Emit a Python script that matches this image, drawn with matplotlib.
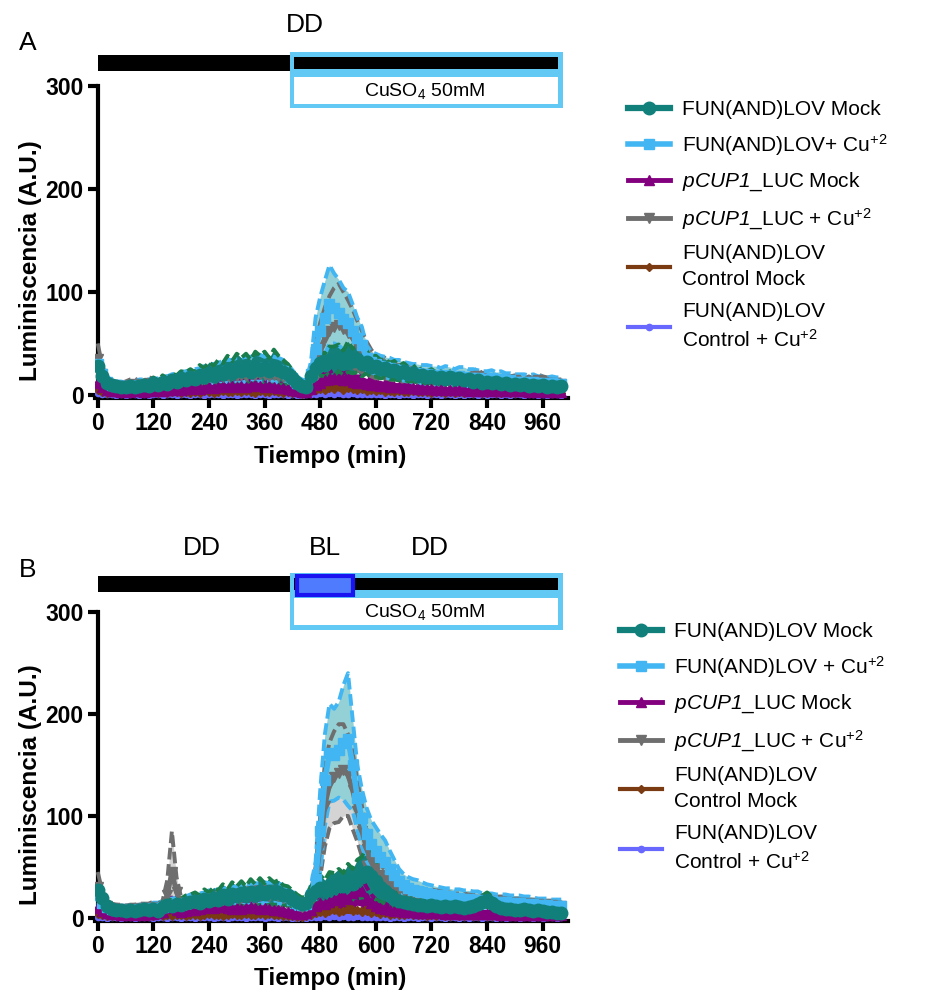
#Luminiscence time courses, FUN(AND)LOV vs pCUP1_LUC
#panel A: CuSO4 in the dark, panel B: CuSO4 + blue light pulse

import numpy as np
import matplotlib.pyplot as plt
from matplotlib.patches import Rectangle

plt.rcParams['font.family'] = ['Liberation Sans', 'DejaVu Sans']
plt.rcParams['mathtext.fontset'] = 'custom'
plt.rcParams['mathtext.rm'] = 'Liberation Sans'
plt.rcParams['mathtext.it'] = 'Liberation Sans:italic'
plt.rcParams['mathtext.sf'] = 'Liberation Sans:italic'   # used for italic gene names, digits included
plt.rcParams['mathtext.bf'] = 'Liberation Sans:bold'

# time axis (min), one reading every 10 min
t = np.arange(0, 1001, 10)
x_ticks = [0, 120, 240, 360, 480, 600, 720, 840, 960]
y_ticks = [0, 100, 200, 300]

# ---------------- panel A ----------------
a_fun_mock = [
    28, 18, 12, 10, 9, 8, 8, 9, 8, 9, 10,
    9, 12, 10, 13, 11, 14, 13, 16, 14, 17,
    15, 19, 17, 21, 18, 22, 20, 24, 21, 25,
    23, 26, 22, 27, 24, 26, 23, 27, 24, 22,
    20, 16, 12, 9, 8, 18, 26, 31, 29, 34,
    33, 36, 31, 37, 33, 35, 30, 32, 27, 28,
    25, 26, 23, 24, 21, 23, 20, 21, 18, 19,
    17, 18, 16, 17, 15, 17, 15, 16, 14, 15,
    13, 14, 12, 13, 12, 13, 11, 12, 10, 11,
    10, 11, 9, 10, 9, 10, 8, 9, 8, 9]
a_fun_mock_sd = [
    6, 5, 4, 4, 4, 3, 3, 4, 3, 4, 4,
    4, 5, 4, 6, 5, 7, 6, 7, 8, 8,
    7, 10, 9, 11, 10, 12, 11, 14, 12, 15,
    13, 14, 12, 15, 14, 16, 13, 17, 14, 12,
    10, 8, 6, 4, 4, 8, 10, 12, 11, 13,
    14, 13, 12, 15, 12, 13, 12, 11, 10, 10,
    9, 9, 8, 9, 7, 8, 7, 8, 6, 7,
    6, 7, 6, 6, 5, 6, 6, 5, 6, 5,
    5, 5, 5, 5, 4, 5, 5, 4, 4, 4,
    4, 4, 4, 4, 4, 4, 3, 4, 3, 3]
a_fun_cu = [
    30, 20, 13, 10, 9, 9, 8, 9, 9, 10, 10,
    10, 11, 11, 12, 12, 14, 14, 15, 16, 16,
    17, 18, 19, 20, 20, 21, 22, 23, 23, 24,
    24, 25, 25, 26, 26, 25, 26, 25, 24, 23,
    20, 16, 12, 10, 9, 20, 45, 62, 75, 88,
    84, 80, 74, 70, 62, 55, 48, 36, 32, 30,
    28, 27, 26, 25, 24, 23, 22, 21, 21, 20,
    20, 19, 19, 18, 19, 18, 17, 18, 17, 16,
    16, 16, 15, 15, 16, 14, 15, 14, 14, 13,
    13, 13, 12, 13, 12, 12, 11, 12, 11, 11]
a_fun_cu_sd = [
    8, 6, 5, 4, 4, 4, 4, 4, 4, 5, 5,
    5, 5, 5, 6, 6, 6, 7, 7, 7, 8,
    8, 8, 9, 9, 10, 10, 11, 11, 11, 12,
    12, 12, 12, 13, 13, 12, 13, 12, 12, 11,
    10, 8, 6, 5, 5, 12, 30, 33, 36, 38,
    34, 32, 30, 30, 26, 20, 18, 12, 10, 10,
    10, 10, 10, 9, 10, 9, 9, 9, 9, 9,
    9, 9, 9, 8, 9, 9, 8, 9, 10, 9,
    9, 8, 8, 8, 8, 8, 8, 7, 7, 7,
    7, 7, 7, 7, 6, 6, 6, 6, 6, 6]
a_cup_mock = [
    12, 8, 5, 4, 4, 3, 4, 3, 4, 4, 3,
    4, 4, 5, 4, 5, 5, 6, 5, 6, 6,
    7, 6, 7, 8, 7, 8, 9, 8, 9, 8,
    9, 8, 9, 10, 9, 8, 9, 8, 7, 7,
    6, 5, 4, 3, 3, 6, 10, 12, 14, 15,
    16, 15, 14, 15, 13, 12, 12, 11, 10, 10,
    9, 9, 8, 8, 8, 7, 7, 7, 6, 6,
    6, 6, 5, 6, 5, 5, 5, 5, 5, 4,
    5, 4, 4, 5, 4, 4, 4, 4, 4, 4,
    4, 4, 3, 4, 3, 4, 3, 3, 3, 3]
a_cup_mock_sd = [
    6, 4, 3, 2, 2, 2, 2, 2, 2, 2, 2,
    2, 2, 3, 2, 3, 3, 3, 3, 3, 3,
    4, 3, 4, 4, 4, 4, 5, 4, 5, 4,
    5, 4, 5, 5, 5, 4, 5, 4, 4, 4,
    3, 3, 2, 2, 2, 3, 5, 6, 7, 7,
    8, 7, 7, 7, 6, 6, 6, 5, 5, 5,
    5, 4, 4, 4, 4, 4, 4, 4, 3, 3,
    3, 3, 3, 3, 3, 3, 3, 3, 3, 2,
    3, 2, 2, 3, 2, 2, 2, 2, 2, 2,
    2, 2, 2, 2, 2, 2, 2, 2, 2, 2]
a_cup_cu = [
    35, 20, 12, 10, 9, 8, 9, 10, 11, 9, 10,
    12, 11, 10, 12, 13, 12, 14, 13, 15, 14,
    15, 16, 15, 17, 16, 18, 17, 18, 19, 18,
    19, 18, 20, 19, 20, 19, 18, 19, 18, 17,
    15, 13, 10, 8, 8, 15, 32, 45, 55, 62,
    66, 68, 64, 60, 55, 48, 42, 36, 31, 27,
    25, 26, 24, 22, 21, 20, 20, 19, 18, 18,
    17, 17, 16, 16, 15, 16, 15, 15, 14, 15,
    16, 18, 15, 14, 15, 14, 13, 14, 13, 14,
    13, 12, 13, 12, 14, 13, 12, 12, 11, 11]
a_cup_cu_sd = [
    15, 8, 5, 4, 4, 4, 4, 5, 5, 4, 4,
    5, 5, 4, 5, 5, 5, 6, 5, 6, 6,
    6, 6, 6, 7, 6, 7, 7, 7, 8, 7,
    8, 7, 8, 8, 8, 8, 7, 8, 7, 7,
    6, 5, 4, 3, 3, 8, 18, 25, 30, 34,
    38, 40, 36, 32, 28, 24, 20, 16, 13, 11,
    10, 10, 9, 8, 8, 7, 7, 7, 6, 6,
    6, 6, 6, 6, 5, 6, 5, 5, 5, 5,
    6, 8, 5, 5, 5, 5, 5, 5, 5, 5,
    5, 4, 5, 4, 6, 5, 5, 4, 4, 4]
a_ctrl_mock = [
    5, 3, 2, 3, 2, 3, 2, 2, 3, 2, 3,
    2, 3, 2, 3, 2, 3, 3, 2, 3, 2,
    3, 2, 4, 3, 2, 3, 4, 3, 3, 4,
    3, 4, 3, 2, 4, 3, 3, 4, 3, 2,
    3, 2, 2, 1, 2, 4, 5, 6, 5, 7,
    6, 8, 5, 7, 6, 5, 6, 4, 5, 4,
    5, 3, 4, 3, 4, 3, 3, 4, 3, 3,
    3, 2, 3, 3, 2, 3, 2, 3, 2, 3,
    2, 3, 2, 2, 3, 2, 2, 3, 2, 2,
    3, 2, 2, 3, 2, 2, 3, 2, 2, 2]
a_ctrl_mock_sd = [
    2, 2, 1, 2, 1, 2, 1, 1, 2, 1, 2,
    1, 2, 1, 2, 1, 2, 2, 1, 2, 1,
    2, 1, 2, 2, 1, 2, 2, 2, 2, 2,
    2, 2, 2, 1, 2, 2, 2, 2, 2, 1,
    2, 1, 1, 1, 1, 2, 2, 3, 2, 3,
    3, 3, 2, 3, 3, 2, 3, 2, 2, 2,
    2, 2, 2, 2, 2, 2, 2, 2, 2, 2,
    2, 1, 2, 2, 1, 2, 1, 2, 1, 2,
    1, 2, 1, 1, 2, 1, 1, 2, 1, 1,
    2, 1, 1, 2, 1, 1, 2, 1, 1, 1]
a_ctrl_cu = [
    2, 1, 1, 1, 0, 1, 0, 1, 1, 0, 1,
    0, 1, 1, 0, 1, 1, 0, 1, 1, 0,
    1, 1, 0, 1, 1, 1, 0, 1, 1, 0,
    1, 1, 1, 0, 1, 1, 0, 1, 1, 1,
    0, 1, 0, 0, 1, 1, 1, 2, 1, 2,
    1, 2, 1, 1, 2, 1, 1, 1, 1, 1,
    1, 0, 1, 1, 0, 1, 1, 0, 1, 1,
    0, 1, 1, 0, 1, 1, 0, 1, 0, 1,
    1, 0, 1, 0, 1, 1, 0, 1, 0, 1,
    1, 0, 1, 1, 0, 1, 0, 1, 1, 0]

# ---------------- panel B ----------------
b_fun_mock = [
    27, 20, 12, 9, 8, 8, 7, 8, 7, 8, 9,
    8, 9, 7, 11, 13, 12, 14, 13, 15, 16,
    17, 15, 19, 17, 20, 18, 22, 19, 23, 21,
    24, 21, 25, 22, 26, 23, 26, 24, 25, 22,
    22, 19, 16, 14, 15, 22, 26, 29, 26, 31,
    30, 33, 31, 36, 33, 38, 40, 45, 41, 36,
    30, 26, 22, 19, 17, 16, 15, 14, 13, 13,
    12, 13, 12, 11, 12, 11, 12, 11, 10, 11,
    12, 14, 16, 18, 15, 12, 10, 9, 9, 8,
    8, 9, 8, 7, 8, 7, 6, 6, 5, 5]
b_fun_mock_sd = [
    6, 5, 4, 4, 3, 3, 3, 3, 3, 3, 4,
    3, 4, 3, 5, 6, 5, 6, 6, 7, 7,
    8, 7, 9, 8, 10, 9, 11, 9, 12, 10,
    12, 10, 13, 11, 13, 11, 13, 11, 12, 10,
    9, 8, 7, 6, 6, 9, 11, 13, 11, 14,
    14, 15, 13, 17, 15, 19, 20, 25, 21, 18,
    14, 12, 10, 9, 8, 7, 7, 6, 6, 6,
    6, 6, 5, 5, 6, 5, 5, 5, 5, 5,
    5, 6, 6, 7, 6, 5, 4, 4, 4, 4,
    4, 4, 4, 3, 4, 3, 3, 3, 3, 3]
b_fun_cu = [
    22, 15, 11, 9, 8, 8, 8, 8, 8, 9, 9,
    9, 10, 10, 11, 12, 13, 14, 14, 15, 16,
    17, 17, 18, 19, 19, 20, 20, 21, 21, 22,
    22, 23, 23, 24, 24, 25, 24, 25, 24, 23,
    21, 18, 15, 13, 14, 22, 38, 85, 135, 162,
    160, 165, 172, 175, 150, 118, 98, 82, 72, 66,
    60, 55, 48, 42, 36, 32, 29, 27, 26, 25,
    24, 23, 22, 22, 21, 21, 20, 20, 19, 19,
    18, 18, 17, 17, 17, 16, 16, 16, 15, 15,
    15, 14, 14, 14, 13, 13, 13, 12, 12, 12]
b_fun_cu_sd = [
    10, 7, 5, 4, 4, 4, 4, 4, 4, 4, 4,
    4, 5, 5, 5, 5, 6, 6, 6, 6, 7,
    7, 7, 7, 8, 8, 8, 8, 9, 9, 9,
    9, 10, 10, 10, 10, 10, 10, 10, 10, 9,
    9, 8, 7, 6, 7, 10, 17, 40, 45, 48,
    45, 47, 56, 65, 45, 32, 28, 26, 24, 23,
    22, 21, 18, 15, 12, 11, 11, 11, 11, 10,
    9, 9, 9, 8, 8, 8, 8, 8, 8, 8,
    8, 8, 7, 7, 7, 7, 7, 7, 7, 7,
    7, 7, 7, 6, 6, 6, 6, 6, 6, 6]
b_cup_mock = [
    10, 7, 5, 4, 4, 3, 3, 4, 3, 4, 3,
    4, 4, 5, 6, 10, 12, 8, 6, 7, 8,
    8, 9, 10, 11, 10, 12, 11, 10, 9, 10,
    9, 10, 11, 10, 9, 10, 9, 8, 8, 7,
    6, 5, 4, 4, 5, 8, 12, 15, 14, 16,
    18, 20, 22, 19, 24, 28, 26, 20, 15, 12,
    10, 9, 8, 7, 7, 6, 6, 6, 5, 5,
    5, 5, 5, 5, 4, 5, 4, 4, 4, 4,
    4, 4, 4, 4, 4, 4, 3, 4, 3, 3,
    3, 3, 3, 3, 3, 3, 3, 3, 3, 3]
b_cup_mock_sd = [
    5, 4, 3, 2, 2, 2, 2, 2, 2, 2, 2,
    2, 2, 3, 3, 6, 8, 4, 3, 4, 4,
    4, 5, 5, 6, 5, 6, 6, 5, 5, 5,
    5, 5, 6, 5, 5, 5, 5, 4, 4, 4,
    3, 3, 2, 2, 3, 4, 6, 8, 7, 9,
    10, 11, 12, 10, 13, 14, 13, 10, 8, 6,
    5, 5, 4, 4, 4, 3, 3, 3, 3, 3,
    3, 3, 3, 3, 2, 3, 2, 2, 2, 2,
    2, 2, 2, 2, 2, 2, 2, 2, 2, 2,
    2, 2, 2, 2, 2, 2, 2, 2, 2, 2]
b_cup_cu = [
    30, 18, 12, 10, 9, 9, 8, 9, 9, 10, 10,
    10, 11, 10, 12, 22, 45, 25, 14, 13, 14,
    15, 15, 16, 17, 17, 18, 18, 19, 19, 20,
    20, 21, 21, 22, 22, 22, 21, 22, 21, 20,
    18, 16, 13, 11, 12, 18, 35, 70, 110, 130,
    138, 142, 145, 140, 125, 105, 85, 68, 56, 48,
    42, 38, 34, 30, 28, 26, 25, 24, 24, 23,
    22, 22, 21, 21, 20, 20, 19, 19, 19, 18,
    18, 18, 17, 17, 17, 16, 16, 16, 15, 15,
    15, 15, 14, 14, 14, 13, 13, 13, 12, 12]
b_cup_cu_sd = [
    15, 8, 5, 4, 4, 4, 4, 4, 4, 4, 4,
    4, 5, 4, 5, 15, 40, 15, 6, 5, 6,
    6, 6, 6, 7, 7, 7, 7, 8, 8, 8,
    8, 8, 9, 9, 9, 9, 8, 9, 8, 8,
    7, 6, 5, 4, 5, 8, 15, 30, 40, 42,
    45, 48, 45, 40, 38, 30, 25, 20, 15, 12,
    10, 9, 8, 8, 7, 7, 7, 6, 6, 6,
    6, 6, 6, 6, 5, 5, 5, 5, 5, 5,
    5, 5, 5, 5, 5, 5, 5, 5, 4, 4,
    4, 4, 4, 4, 4, 4, 4, 4, 4, 4]
b_ctrl_mock = [
    4, 3, 2, 2, 3, 2, 2, 3, 2, 2, 3,
    2, 2, 3, 2, 3, 2, 3, 3, 2, 3,
    3, 2, 3, 4, 3, 3, 2, 3, 4, 3,
    3, 4, 3, 3, 4, 3, 4, 3, 3, 2,
    2, 2, 1, 1, 2, 3, 5, 6, 5, 7,
    8, 6, 7, 9, 7, 8, 6, 7, 5, 6,
    4, 5, 3, 4, 3, 3, 4, 3, 3, 3,
    2, 3, 2, 3, 2, 2, 3, 2, 2, 3,
    2, 2, 3, 2, 2, 2, 3, 2, 2, 2,
    2, 3, 2, 2, 2, 2, 2, 2, 2, 2]
b_ctrl_mock_sd = [
    2, 2, 1, 1, 2, 1, 1, 2, 1, 1, 2,
    1, 1, 2, 1, 2, 1, 2, 2, 1, 2,
    2, 1, 2, 2, 2, 2, 1, 2, 2, 2,
    2, 2, 2, 2, 2, 2, 2, 2, 2, 1,
    1, 1, 1, 1, 1, 2, 2, 3, 2, 3,
    3, 3, 3, 4, 3, 3, 3, 3, 2, 3,
    2, 2, 2, 2, 2, 2, 2, 2, 2, 2,
    1, 2, 1, 2, 1, 1, 2, 1, 1, 2,
    1, 1, 2, 1, 1, 1, 2, 1, 1, 1,
    1, 2, 1, 1, 1, 1, 1, 1, 1, 1]
b_ctrl_cu = [
    1, 1, 0, 1, 1, 0, 1, 1, 0, 1, 1,
    1, 0, 1, 1, 0, 1, 1, 0, 1, 1,
    0, 1, 1, 1, 0, 1, 1, 0, 1, 1,
    1, 0, 1, 1, 1, 0, 1, 1, 0, 1,
    1, 0, 0, 1, 0, 1, 1, 1, 2, 1,
    2, 1, 2, 1, 1, 2, 1, 1, 1, 1,
    1, 1, 0, 1, 1, 0, 1, 1, 0, 1,
    1, 0, 1, 1, 0, 1, 1, 0, 1, 0,
    1, 1, 0, 1, 1, 0, 1, 0, 1, 1,
    0, 1, 1, 0, 1, 0, 1, 1, 0, 1]

labels_a = ['FUN(AND)LOV Mock', 'FUN(AND)LOV+ Cu$^{+2}$',
            r'$\mathsf{pCUP1}$_LUC Mock', r'$\mathsf{pCUP1}$_LUC + Cu$^{+2}$',
            'FUN(AND)LOV\nControl Mock', 'FUN(AND)LOV\nControl + Cu$^{+2}$']
labels_b = ['FUN(AND)LOV Mock', 'FUN(AND)LOV + Cu$^{+2}$',
            r'$\mathsf{pCUP1}$_LUC Mock', r'$\mathsf{pCUP1}$_LUC + Cu$^{+2}$',
            'FUN(AND)LOV\nControl Mock', 'FUN(AND)LOV\nControl + Cu$^{+2}$']

# style per series: (line colour, band fill, band edge, marker, marker size, line width)
styles = [
    ('#11807b', '#13807a', '#1a7d4c', 'o', 9, 4.5),
    ('#42b6f2', '#93d1d6', '#42b6f2', 's', 7.5, 4),
    ('#82007e', '#82007e', '#82007e', '^', 6.5, 3.5),
    ('#6e6e6e', '#d4d4d4', '#6e6e6e', 'v', 6.5, 3.5),
    ('#7a3a12', '#7a3a12', '#7a3a12', 'D', 4.5, 3),
    ('#6868ff', '#6868ff', '#6868ff', 'o', 4.5, 3),
]
CYAN = '#62c9f5'


def draw_panel(ax, means, sds):
    """plot mean +/- SD bands (dashed outline) and the means with markers"""
    # order on screen: controls at the bottom, FUN(AND)LOV Mock on top
    order = [5, 4, 2, 3, 1, 0]
    for i in order:
        if sds[i] is None:
            continue
        m = np.array(means[i], float)
        s = np.array(sds[i], float)
        ax.fill_between(t, m - s, m + s, color=styles[i][1], lw=0, zorder=3)
    for i in order:
        if sds[i] is None:
            continue
        m = np.array(means[i], float)
        s = np.array(sds[i], float)
        for edge in (m + s, m - s):
            ax.plot(t, edge, color=styles[i][2], lw=2.8, ls=(0, (3, 1.2)), zorder=4)
    handles = [None] * 6
    for i in order:
        col, _, _, mk, ms, lw = styles[i]
        h, = ax.plot(t, means[i], color=col, lw=lw, marker=mk, ms=ms,
                     mec=col, mfc=col, zorder=5)
        handles[i] = h

    ax.set_xlim(-5, 1015)
    ax.set_ylim(-3, 300)
    ax.set_xticks(x_ticks)
    ax.set_yticks(y_ticks)
    for side in ['top', 'right']:
        ax.spines[side].set_visible(False)
    for side in ['left', 'bottom']:
        ax.spines[side].set_linewidth(3)
    ax.spines['left'].set_position(('data', 0))
    ax.tick_params(width=3, length=7, labelsize=16.5, pad=3)
    for lbl in ax.get_xticklabels() + ax.get_yticklabels():
        lbl.set_fontweight('bold')
    ax.set_xlabel('Tiempo (min)', fontsize=17.5, fontweight='bold')
    ax.set_ylabel('Luminiscencia (A.U.)', fontsize=17.5, fontweight='bold')
    return handles


def draw_bars(ax, ytop, with_bl):
    """black dark bar, cyan CuSO4 box and optional blue light pulse above the axes"""
    kw = dict(clip_on=False, zorder=6)
    # left bar bottom/top, box bottom/top, inner bar bottom/top, white bottom/top
    lb0, lb1, bx0, bx1, ib0, ib1, wb0, wb1 = ytop
    ax.add_patch(Rectangle((0, lb0), 415, lb1 - lb0, fc='black', ec='none', **kw))
    ax.add_patch(Rectangle((415, bx0), 589, bx1 - bx0, fc=CYAN, ec='none', **kw))
    ax.add_patch(Rectangle((424, ib0), 569, ib1 - ib0, fc='black', ec='none', **kw))
    ax.add_patch(Rectangle((424, wb0), 569, wb1 - wb0, fc='white', ec='none', **kw))
    ax.text(705, (wb0 + wb1) / 2, 'CuSO$_4$ 50mM', ha='center', va='center',
            fontsize=14, clip_on=False, zorder=7)
    if with_bl:
        ax.add_patch(Rectangle((430, lb0 - 3), 120, lb1 - lb0 + 3, fc='#4f7cff',
                               ec='#1a14f0', lw=3, clip_on=False, zorder=7))


fig = plt.figure(figsize=(9.29, 9.92), dpi=100)
axA = fig.add_axes([0.1027, 0.5988, 0.5089, 0.3145])
axB = fig.add_axes([0.1027, 0.0716, 0.5089, 0.3115])

hA = draw_panel(axA, [a_fun_mock, a_fun_cu, a_cup_mock, a_cup_cu, a_ctrl_mock, a_ctrl_cu],
                [a_fun_mock_sd, a_fun_cu_sd, a_cup_mock_sd, a_cup_cu_sd, a_ctrl_mock_sd, None])
hB = draw_panel(axB, [b_fun_mock, b_fun_cu, b_cup_mock, b_cup_cu, b_ctrl_mock, b_ctrl_cu],
                [b_fun_mock_sd, b_fun_cu_sd, b_cup_mock_sd, b_cup_cu_sd, b_ctrl_mock_sd, None])

for ax in (axA, axB):
    ax.xaxis.set_label_coords(0.496, -0.15)
    ax.yaxis.set_label_coords(-0.113, 0.44)

draw_bars(axA, (314.6, 330.1, 278.6, 333.0, 316.5, 328.0, 282.5, 308.7), False)
draw_bars(axB, (319.6, 335.3, 282.2, 338.3, 321.5, 333.3, 287.1, 313.7), True)

axA.text(448, 359, 'DD', ha='center', va='center', fontsize=19, clip_on=False)
axB.text(225, 363, 'DD', ha='center', va='center', fontsize=19, clip_on=False)
axB.text(491, 363, 'BL', ha='center', va='center', fontsize=19, clip_on=False)
axB.text(717, 363, 'DD', ha='center', va='center', fontsize=19, clip_on=False)

fig.text(28 / 929, 1 - 43 / 992, 'A', ha='center', va='center', fontsize=19)
fig.text(28 / 929, 1 - 570 / 992, 'B', ha='center', va='center', fontsize=19)

for handles, labels, anchor in [(hA, labels_a, (628 / 929, 1 - 100 / 992)),
                                (hB, labels_b, (620 / 929, 1 - 622 / 992))]:
    leg = fig.legend(handles, labels, loc='upper left', bbox_to_anchor=anchor,
                     frameon=False, fontsize=15, handlelength=2.0, handletextpad=0.6,
                     labelspacing=0.62, borderpad=0, borderaxespad=0, numpoints=1)
    for tx in leg.get_texts():
        tx.set_linespacing(1.45)

fig.savefig('out.png', dpi=100)
